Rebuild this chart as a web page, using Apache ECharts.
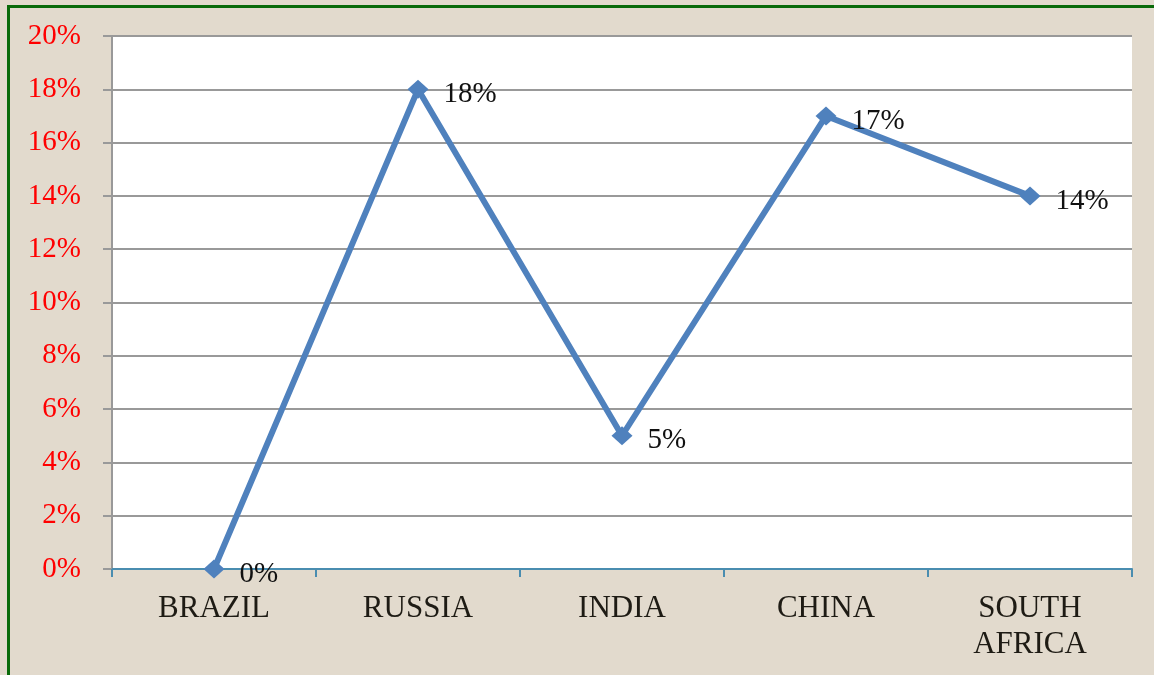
<!DOCTYPE html>
<html>
<head>
<meta charset="utf-8">
<script src="https://cdn.jsdelivr.net/npm/echarts@6/dist/echarts.min.js"></script>
<style>
html,body{margin:0;padding:0;width:1154px;height:675px;overflow:hidden;background:#e2dacd;}
#chart{position:absolute;left:0;top:0;width:1154px;height:675px;}
#bl{position:absolute;left:7px;top:5px;width:3px;height:670px;background:#096a09;}
#bt{position:absolute;left:7px;top:5px;width:1147px;height:3px;background:#096a09;}
</style>
</head>
<body>
<div id="chart"></div>
<div id="bl"></div>
<div id="bt"></div>
<script>
const categories = ['BRAZIL', 'RUSSIA', 'INDIA', 'CHINA', 'SOUTH\nAFRICA'];
const values = [0, 18, 5, 17, 14];
const yMin = 0, yMax = 20, yStep = 2;

const chart = echarts.init(document.getElementById('chart'));
const serif = '"Liberation Serif", "DejaVu Serif", serif';
chart.setOption({
  backgroundColor: '#e2dacd',
  animation: false,
  grid: { left: 112, right: 22, top: 36, bottom: 106, containLabel: false,
          show: true, backgroundColor: '#ffffff', borderWidth: 0 },
  xAxis: {
    type: 'category',
    data: categories,
    boundaryGap: true,
    axisLine: { lineStyle: { color: '#4a8db0', width: 2 } },
    axisTick: { show: true, length: 8, lineStyle: { color: '#4a8db0', width: 2 } },
    axisLabel: { color: '#1e1b14', fontFamily: serif, fontSize: 31, margin: 22, lineHeight: 36, interval: 0 },
    splitLine: { show: false }
  },
  yAxis: {
    type: 'value',
    min: yMin, max: yMax, interval: yStep,
    axisLine: { show: true, lineStyle: { color: '#999999', width: 2 } },
    axisTick: { show: true, length: 9, lineStyle: { color: '#999999', width: 2 } },
    axisLabel: { color: '#ff0000', fontFamily: serif, fontSize: 29, margin: 31, formatter: '{value}%' },
    splitLine: { show: true, lineStyle: { color: '#999999', width: 2 } }
  },
  series: [{
    type: 'line',
    data: values,
    symbol: 'diamond',
    symbolSize: [21, 19],
    lineStyle: { color: '#4f81bd', width: 6 },
    itemStyle: { color: '#4f81bd' },
    label: { show: true, position: 'right', distance: 15, offset: [0, 5],
             color: '#111111', fontFamily: serif, fontSize: 29, formatter: '{c}%' },
    z: 5
  }]
});
</script>
</body>
</html>
